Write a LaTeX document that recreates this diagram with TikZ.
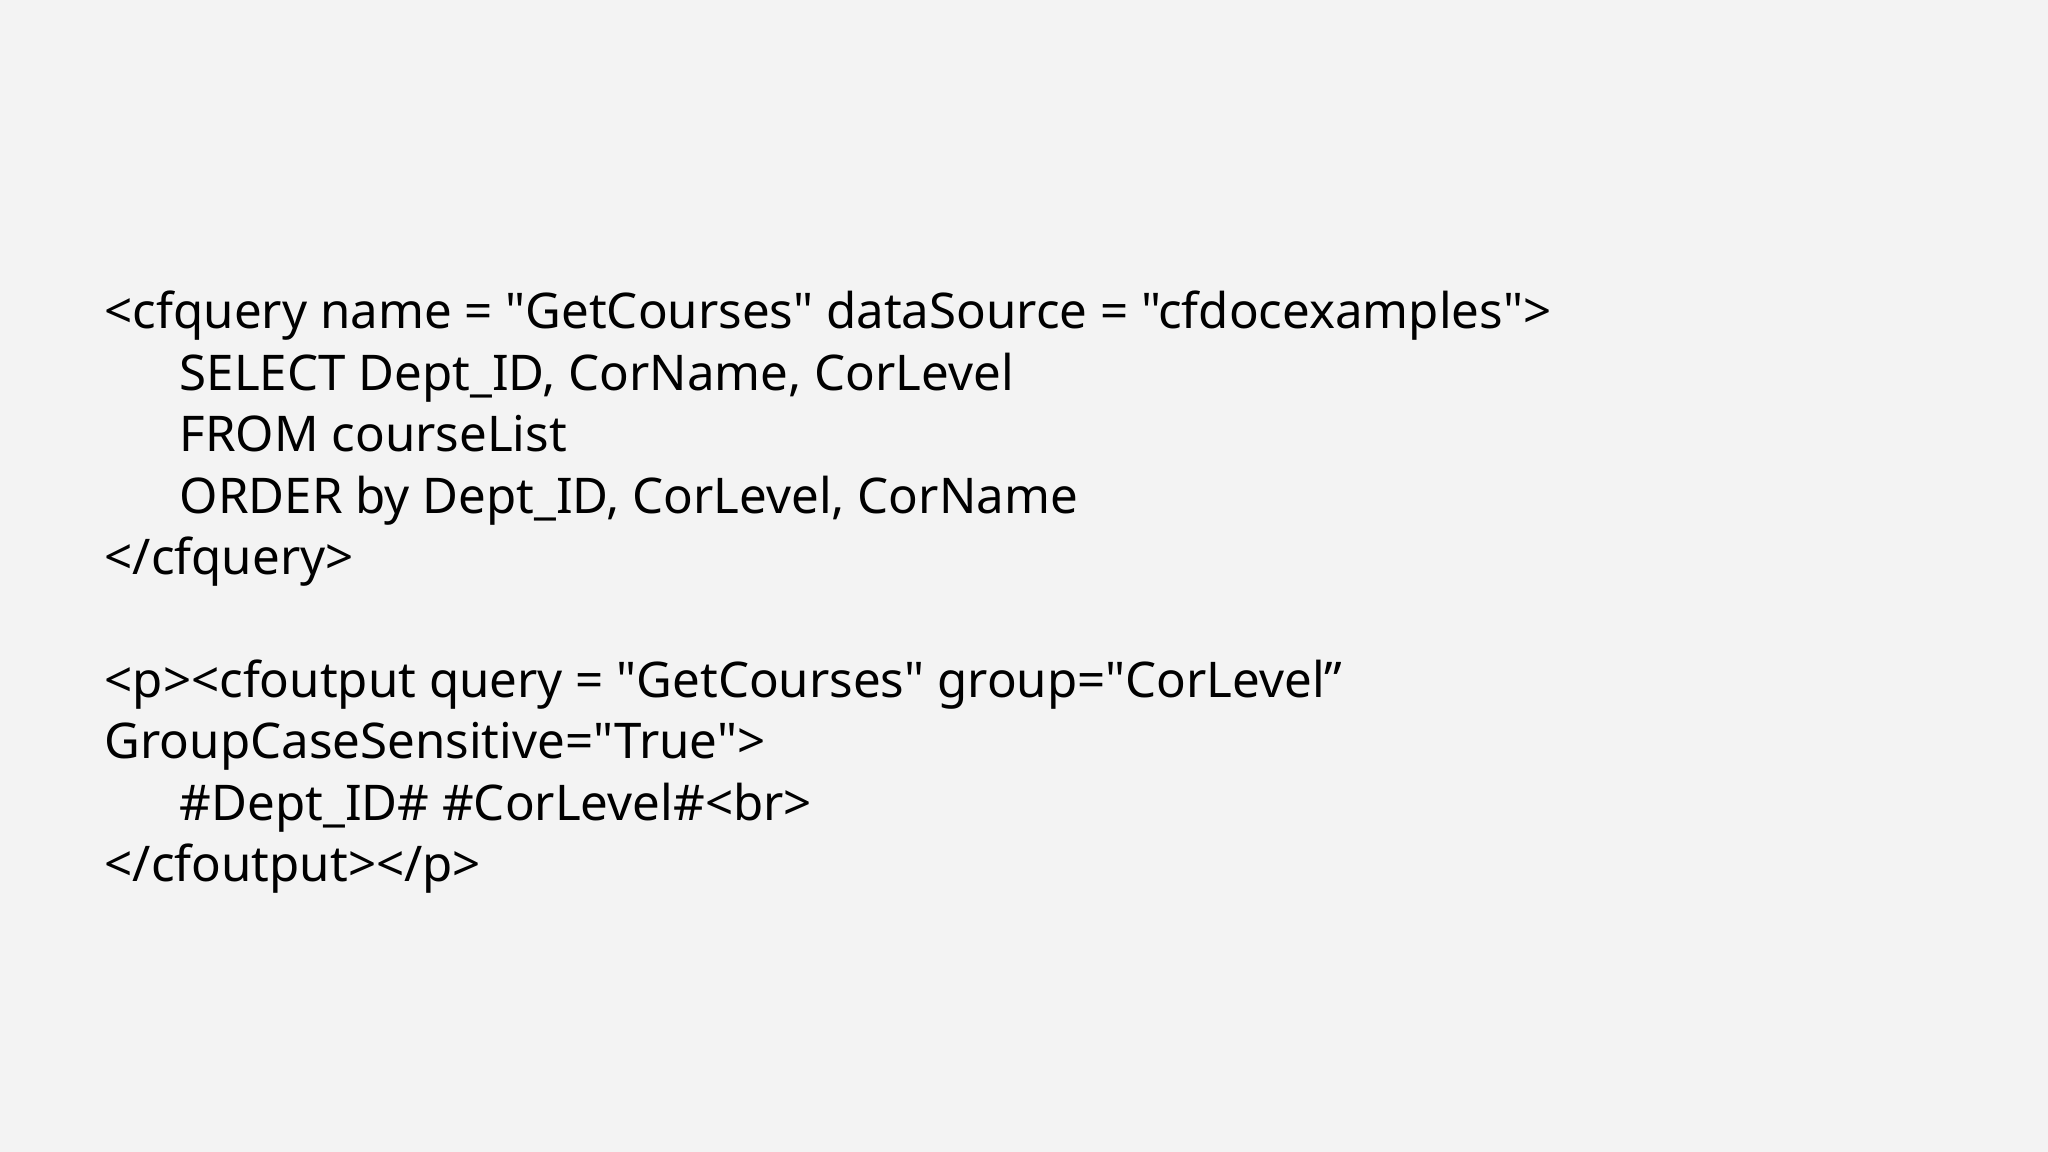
\documentclass[tikz,border=0pt]{standalone}
\usepackage{fontspec}
\newfontfamily\codefont{Noto Sans}
\definecolor{bg}{HTML}{F3F3F3}
\tikzset{code/.style={anchor=base west,inner sep=0pt,font=\codefont\fontsize{14}{16}\selectfont}}

\begin{document}
\begin{tikzpicture}

	\fill[bg] (0,0) rectangle (20.48,11.52);

	\node[code] (q0) at (1.04,8.23) {<cfquery name = "GetCourses" dataSource = "cfdocexamples">};
	\node[code] (q1) at (1.79,7.616) {SELECT Dept\_ID, CorName, CorLevel};
	\node[code] (q2) at (1.79,7.002) {FROM courseList};
	\node[code] (q3) at (1.79,6.388) {ORDER by Dept\_ID, CorLevel, CorName};
	\node[code] (q4) at (1.04,5.774) {</cfquery>};

	\node[code] (o0) at (1.04,4.546) {<p><cfoutput query = "GetCourses" group="CorLevel”};
	\node[code] (o1) at (1.04,3.932) {GroupCaseSensitive="True">};
	\node[code] (o2) at (1.79,3.318) {\#Dept\_ID\# \#CorLevel\#<br>};
	\node[code] (o3) at (1.04,2.704) {</cfoutput></p>};

\end{tikzpicture}
\end{document}
